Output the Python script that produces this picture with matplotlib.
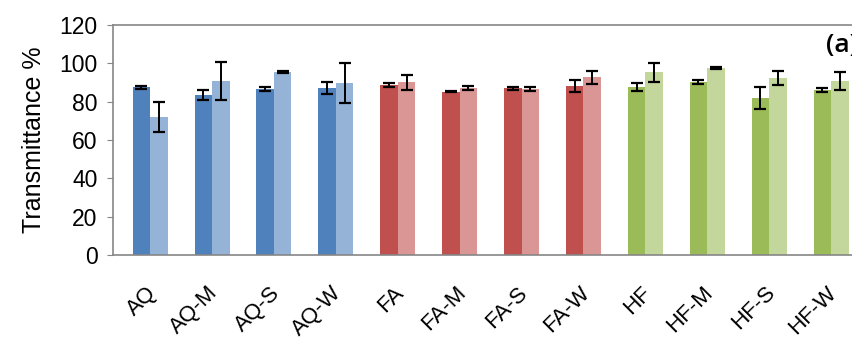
import numpy as np
import matplotlib.pyplot as plt
from matplotlib.transforms import ScaledTranslation

# Muestras y valores de transmitancia (%)
samples = ["AQ", "AQ-M", "AQ-S", "AQ-W", "FA", "FA-M", "FA-S", "FA-W",
           "HF", "HF-M", "HF-S", "HF-W"]
trans_1 = [87.5, 83.5, 86.6, 87.0, 88.7, 85.2, 87.0, 88.3, 87.8, 90.1, 81.9, 85.9]
err_1 = [0.7, 2.6, 1.2, 3.1, 0.9, 0.3, 0.7, 3.0, 2.0, 1.0, 5.5, 1.0]
trans_2 = [72.2, 90.8, 95.7, 89.7, 90.1, 87.0, 86.6, 92.7, 95.3, 97.4, 92.2, 90.8]
err_2 = [7.8, 9.7, 0.5, 10.6, 3.8, 1.0, 1.2, 3.3, 5.0, 0.5, 3.7, 4.7]

dark = ["#4F81BD"] * 4 + ["#C0504D"] * 4 + ["#9BBB59"] * 4
light = ["#95B3D7"] * 4 + ["#D99694"] * 4 + ["#C3D69B"] * 4

plt.rcParams['font.family'] = ['Liberation Sans', 'DejaVu Sans']

fig = plt.figure(figsize=(8.53, 3.45), dpi=100)
ax = fig.add_axes([113 / 853, 0.261, 749 / 853, 0.6665])

x = np.arange(len(samples))
w = 0.283
err_kw = dict(ecolor="black", elinewidth=1.4, capsize=4, capthick=1.6)
ax.bar(x - w / 2, trans_1, w, color=dark, yerr=err_1, error_kw=err_kw)
ax.bar(x + w / 2, trans_2, w, color=light, yerr=err_2, error_kw=err_kw)

ax.set_xlim(-0.6, 11.5)
ax.set_ylim(0, 120)
ax.set_yticks(range(0, 121, 20))
ax.tick_params(axis="y", labelsize=16.5, color="#868686", length=4,
               direction="out", pad=7)
ax.set_xticks(x)
ax.set_xticklabels(samples, rotation=45, ha="right", va="center",
                   rotation_mode="anchor", fontsize=16)
ax.tick_params(axis="x", length=0, pad=25)
offset = ScaledTranslation(2 / 72, 0, fig.dpi_scale_trans)
for lab in ax.get_xticklabels():
    lab.set_transform(lab.get_transform() + offset)
ax.set_ylabel("Transmittance %", fontsize=18, labelpad=10)

for s in ["left", "bottom", "top"]:
    ax.spines[s].set_color("#868686")
    ax.spines[s].set_linewidth(1.2)
ax.spines["right"].set_visible(False)

fig.text(826 / 853, 1 - 46 / 345, "(a)", fontsize=19, fontweight="semibold",
         family="Open Sans", va="center")

fig.savefig("out.png", dpi=100)
